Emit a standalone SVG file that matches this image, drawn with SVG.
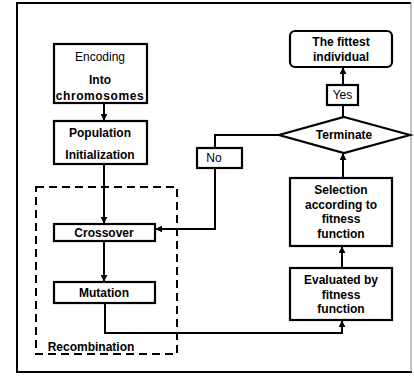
<svg xmlns="http://www.w3.org/2000/svg" width="414" height="377" viewBox="0 0 414 377">
<defs>
<marker id="ah" viewBox="0 0 10 10" refX="9" refY="5" markerWidth="7" markerHeight="7" markerUnits="userSpaceOnUse" orient="auto">
<path d="M0,0 L10,5 L0,10 z" fill="#000"/>
</marker>
</defs>
<style>
.box{fill:#fff;stroke:#000;stroke-width:2.2}
.ln{fill:none;stroke:#000;stroke-width:2}
.t{font-family:"Liberation Sans",Arial,sans-serif;font-size:12px;font-weight:bold;fill:#000;text-anchor:middle}
.n{font-weight:normal}
</style>
<rect width="414" height="377" fill="#fff"/>
<g id="frame">
<path d="M411,3 L17,3 L17,372 L412,372" fill="none" stroke="#000" stroke-width="2"/>
<line x1="411" y1="3" x2="411" y2="372" stroke="#999" stroke-width="1.2"/>
</g>
<g id="recombination">
<rect x="36" y="187" width="141" height="167" fill="none" stroke="#000" stroke-width="2" stroke-dasharray="8,5"/>
<text class="t" x="91" y="351">Recombination</text>
</g>
<g id="connectors">
<line class="ln" x1="104" y1="103" x2="104" y2="120" marker-end="url(#ah)"/>
<line class="ln" x1="104" y1="164" x2="104" y2="223" marker-end="url(#ah)"/>
<line class="ln" x1="104" y1="241" x2="104" y2="281" marker-end="url(#ah)"/>
<polyline class="ln" points="105,303 105,333 342,333 342,321" marker-end="url(#ah)"/>
<line class="ln" x1="342" y1="268" x2="342" y2="247" marker-end="url(#ah)"/>
<line class="ln" x1="343" y1="178" x2="343" y2="154" marker-end="url(#ah)"/>
<line class="ln" x1="343" y1="117" x2="343" y2="68" marker-end="url(#ah)"/>
<polyline class="ln" points="279,135 215,135 215,229 156,229" marker-end="url(#ah)"/>
</g>
<g id="encoding">
<rect class="box" x="54" y="44" width="93" height="59"/>
<text class="t n" x="100" y="61">Encoding</text>
<text class="t" x="100" y="84">Into</text>
<text class="t" x="100" y="100" letter-spacing="0.6">chromosomes</text>
</g>
<g id="population">
<rect class="box" x="54" y="121" width="93" height="43"/>
<text class="t" x="100" y="137">Population</text>
<text class="t" x="100" y="159">Initialization</text>
</g>
<g id="crossover">
<rect class="box" x="54" y="224" width="101" height="17"/>
<text class="t" x="104" y="237">Crossover</text>
</g>
<g id="mutation">
<rect class="box" x="54" y="282" width="101" height="21"/>
<text class="t" x="104" y="297">Mutation</text>
</g>
<g id="evaluated">
<rect class="box" x="290" y="268" width="102" height="52"/>
<text class="t" x="341" y="284">Evaluated by</text>
<text class="t" x="341" y="299">fitness</text>
<text class="t" x="341" y="313">function</text>
</g>
<g id="selection">
<rect class="box" x="290" y="178" width="102" height="68"/>
<text class="t" x="341" y="194">Selection</text>
<text class="t" x="341" y="209">according to</text>
<text class="t" x="341" y="223">fitness</text>
<text class="t" x="341" y="238">function</text>
</g>
<g id="terminate">
<polygon points="344,117 410,135 344,153 279,135" fill="#fff" stroke="#000" stroke-width="2.2"/>
<text class="t" x="344" y="139">Terminate</text>
</g>
<g id="yes">
<rect class="box" x="327" y="85" width="31" height="20"/>
<text class="t n" x="342.5" y="99">Yes</text>
</g>
<g id="no">
<rect class="box" x="197" y="148" width="45" height="20"/>
<text class="t n" x="214" y="162">No</text>
</g>
<g id="fittest">
<rect class="box" x="290" y="31" width="102" height="36" rx="5"/>
<text class="t" x="341" y="46">The fittest</text>
<text class="t" x="341" y="61">individual</text>
</g>
</svg>
